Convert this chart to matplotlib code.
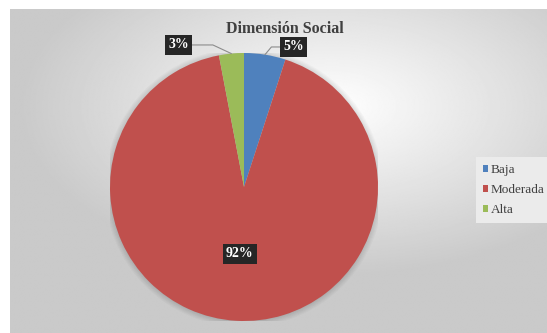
import numpy as np
import matplotlib.pyplot as plt
from matplotlib.patches import Patch, Circle

# data
categories = ["Baja", "Moderada", "Alta"]
values = [5, 92, 3]
labels = ["5%", "92%", "3%"]
colors = ["#4F81BD", "#C0504D", "#9BBB59"]
title = "Dimensión Social"

W, H = 547, 333
fig = plt.figure(figsize=(W / 100, H / 100), dpi=100)
fig.patch.set_facecolor("white")

# gray radial-gradient panel behind the chart
bg = fig.add_axes([10 / W, 0, (W - 10) / W, (H - 9) / H])
bg.set_axis_off()
yy, xx = np.mgrid[0:1:300j, 0:1:500j]
d = np.sqrt(((xx - 0.6) / 1.0) ** 2 + ((yy - 0.3) / 0.9) ** 2)
shade = np.clip(1.0 - 0.36 * d, 0.79, 1.0)
bg.imshow(shade, cmap="gray", vmin=0, vmax=1, aspect="auto",
          extent=[0, 1, 0, 1], interpolation="bilinear")

# pie
cx, cy, r = 244, 187, 134
ax = fig.add_axes([(cx - r) / W, (H - cy - r) / H, 2 * r / W, 2 * r / H])
# soft shadow
for k in range(6):
    ax.add_patch(Circle((0, -0.005), 1.0 + 0.008 * k, color="black", alpha=0.025, lw=0, zorder=0))
wedges, _ = ax.pie(values, colors=colors, startangle=90, counterclock=False,
                   radius=1, wedgeprops=dict(linewidth=0, zorder=2))
ax.set_xlim(-1, 1)
ax.set_ylim(-1, 1)
ax.set_aspect("equal")
ax.set_axis_off()

box = dict(boxstyle="square,pad=0.25", facecolor="#262626", edgecolor="none")
font = dict(family="Liberation Serif", fontsize=10, fontweight="bold", color="white")

# 92% inside the big slice
w = wedges[1]
ang = np.deg2rad((w.theta1 + w.theta2) / 2)
ax.text(0.5 * np.cos(ang), 0.5 * np.sin(ang), labels[1], ha="center", va="center",
        bbox=box, zorder=5, **font)

# outside labels with leader lines
outside = [(0, (0.37, 1.045), "angle,angleA=0,angleB=50,rad=0"),
           (2, (-0.49, 1.06), "angle,angleA=0,angleB=155,rad=0")]
for i, (tx, ty), conn in outside:
    w = wedges[i]
    ang = np.deg2rad((w.theta1 + w.theta2) / 2)
    ax.annotate(labels[i], xy=(np.cos(ang), np.sin(ang)), xytext=(tx, ty),
                ha="center", va="center", bbox=box, zorder=5,
                arrowprops=dict(arrowstyle="-", color="#8c8c8c", lw=0.8,
                                connectionstyle=conn, shrinkA=0, shrinkB=0),
                annotation_clip=False, **font)

fig.text(285 / W, 1 - 29 / H, title, ha="center", va="center",
         family="Liberation Serif", fontsize=11.5, fontweight="bold", color="#404040")

handles = [Patch(facecolor=c, edgecolor="none") for c in colors]
leg = fig.legend(handles, categories, loc="center left", bbox_to_anchor=(476 / W, 1 - 190 / H),
                 frameon=True, fancybox=False, framealpha=1, facecolor="#ebebeb",
                 edgecolor="none", handlelength=0.4, handleheight=0.4, handletextpad=0.2,
                 borderpad=0.5, borderaxespad=0, labelspacing=0.6,
                 prop=dict(family="Liberation Serif", size=9.5))
for t in leg.get_texts():
    t.set_color("#404040")

fig.savefig("out.png", dpi=100)
